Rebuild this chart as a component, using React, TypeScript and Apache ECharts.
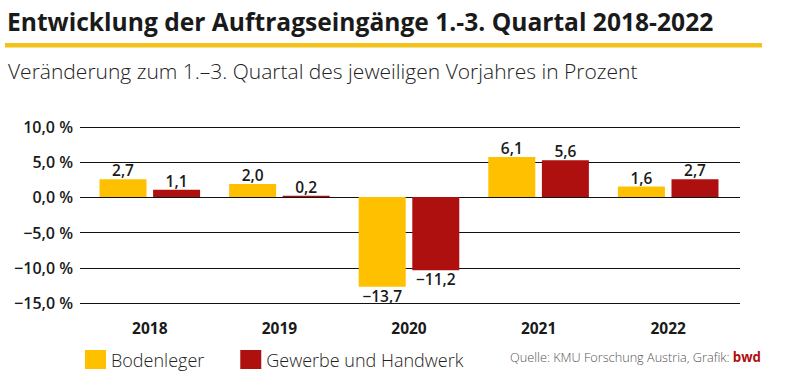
import React, { useEffect, useRef } from "react";
import * as echarts from "echarts";

const categories = ["2018", "2019", "2020", "2021", "2022"];
const bodenleger = [2.7, 2.0, -13.7, 6.1, 1.6];
const gewerbe = [1.1, 0.2, -11.2, 5.6, 2.7];
const seriesNames = ["Bodenleger", "Gewerbe und Handwerk"];
const yMin = -15;
const yMax = 10;
const yInterval = 5;

const YELLOW = "#FFC000";
const RED = "#AE1010";
const FONT = "'Open Sans', 'Noto Sans', sans-serif";

const fmt = (v: number) => (v < 0 ? "\u2212" : "") + Math.abs(v).toFixed(1).replace(".", ",");

const makeData = (vals: number[]) =>
  vals.map((v) => ({
    value: v,
    label: { position: v < 0 ? "bottom" : "top" },
  }));

export default function App() {
  const ref = useRef<HTMLDivElement>(null);
  useEffect(() => {
    if (!ref.current) return;
    const chart = echarts.init(ref.current, null, { renderer: "svg" });
    const valueLabel = {
      show: true,
      distance: 1,
      fontFamily: FONT,
      fontSize: 15.5,
      fontWeight: 600,
      color: "#1a1a1a",
      formatter: (p: any) => fmt(p.value),
    };
    chart.setOption({
      animation: false,
      backgroundColor: "#ffffff",
      textStyle: { fontFamily: FONT },
      grid: [
        { left: 80, right: 46, top: 127, bottom: 85 },
        { left: 85, right: 53, top: 127, bottom: 85 },
      ],
      xAxis: [
        {
          type: "category",
          gridIndex: 0,
          data: categories,
          show: false,
        },
        {
          type: "category",
          gridIndex: 1,
          data: categories,
          axisLine: { show: false },
          axisTick: { show: false },
          axisLabel: {
            margin: 17,
            fontFamily: FONT,
            fontSize: 15.5,
            fontWeight: 700,
            color: "#1a1a1a",
          },
        },
      ],
      yAxis: [
        {
          type: "value",
          gridIndex: 0,
          min: yMin,
          max: yMax,
          interval: yInterval,
          axisLine: { show: false },
          axisTick: { show: false },
          splitLine: { show: true, lineStyle: { color: "#111", width: 1 } },
          axisLabel: {
            margin: 7,
            fontFamily: FONT,
            fontSize: 16,
            fontWeight: 600,
            color: "#1a1a1a",
            formatter: (v: number) => fmt(v) + " %",
          },
        },
        {
          type: "value",
          gridIndex: 1,
          min: -16.2,
          max: 10.7,
          show: false,
          splitLine: { show: false },
        },
      ],
      legend: {
        left: 80,
        top: 345,
        itemWidth: 21,
        itemHeight: 19,
        itemGap: 36,
        icon: "rect",
        data: seriesNames,
        textStyle: {
          fontFamily: FONT,
          fontSize: 18,
          fontWeight: 300,
          color: "#222",
        },
      },
      graphic: [
        {
          type: "text",
          x: 7,
          y: 21,
          style: {
            text: "Entwicklung der Auftragseingänge 1.-3. Quartal 2018-2022",
            fontFamily: FONT,
            fontSize: 24.6,
            fontWeight: 700,
            fill: "#1a1a1a",
            textVerticalAlign: "middle",
            verticalAlign: "middle",
          },
        },
        {
          type: "rect",
          shape: { x: 5, y: 43, width: 757, height: 4.5 },
          style: { fill: "#F3C31A" },
        },
        {
          type: "text",
          x: 8,
          y: 71,
          style: {
            text: "Veränderung zum 1.\u20133. Quartal des jeweiligen Vorjahres in Prozent",
            fontFamily: FONT,
            fontSize: 21,
            fontWeight: 300,
            fill: "#222",
            textVerticalAlign: "middle",
            verticalAlign: "middle",
          },
        },
        {
          type: "text",
          right: 25,
          top: 350,
          style: {
            text: "{a|Quelle: KMU Forschung Austria, Grafik: }{b|bwd}",
            fontFamily: FONT,
            rich: {
              a: { fontFamily: FONT, fontSize: 12.7, fontWeight: 300, fill: "#555", color: "#555" },
              b: { fontFamily: FONT, fontSize: 13.3, fontWeight: 700, fill: RED, color: RED },
            },
          },
        },
      ],
      series: [
        {
          name: seriesNames[0],
          type: "bar",
          xAxisIndex: 1,
          yAxisIndex: 1,
          barWidth: 47,
          barGap: "14%",
          itemStyle: { color: YELLOW },
          label: valueLabel,
          data: makeData(bodenleger),
        },
        {
          name: seriesNames[1],
          type: "bar",
          xAxisIndex: 1,
          yAxisIndex: 1,
          barWidth: 47,
          barGap: "14%",
          itemStyle: { color: RED },
          label: valueLabel,
          data: makeData(gewerbe),
        },
      ],
    });
    return () => chart.dispose();
  }, []);
  return <div ref={ref} style={{ width: 786, height: 388, position: "absolute", left: 0, top: 0 }} />;
}
